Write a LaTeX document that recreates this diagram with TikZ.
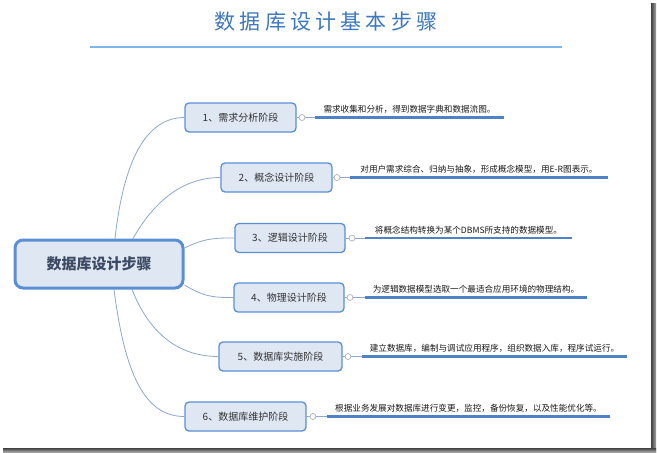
\documentclass[tikz,border=0pt]{standalone}
\usepackage{fontspec}
\setmainfont{Noto Sans CJK SC}
\newfontfamily\titlefont[LetterSpace=20]{Noto Sans CJK SC}
\usetikzlibrary{calc}
\definecolor{boxborder}{HTML}{5A8FD6}
\definecolor{boxfill}{HTML}{DFE7F3}
\definecolor{curvecol}{HTML}{8CA8D0}
\definecolor{thickline}{HTML}{4F81C7}
\definecolor{titlecol}{HTML}{3D78C0}
\definecolor{titleline}{HTML}{7DB6E8}
\definecolor{roottext}{HTML}{3D4A63}
\definecolor{boxtext}{HTML}{333333}
\tikzset{
  stepbox/.style={draw=boxborder, line width=1.3pt, fill=boxfill, rounded corners=4pt,
    minimum height=29pt, inner sep=0pt, font=\fontsize{10}{12}\selectfont, text=boxtext},
  rootbox/.style={draw=boxborder, line width=3pt, fill=boxfill, rounded corners=8pt,
    minimum width=168pt, minimum height=48pt, inner sep=0pt,
    font=\fontsize{15}{18}\selectfont\bfseries, text=roottext},
  knob/.style={circle, draw=gray!70, fill=white, line width=0.6pt, minimum size=6pt, inner sep=0pt},
  branch/.style={draw=curvecol, line width=0.8pt},
  stub/.style={draw=curvecol, line width=0.6pt},
  underline/.style={draw=thickline, line width=2.4pt},
  desc/.style={anchor=south, inner sep=1pt, font=\fontsize{8.6}{10}\selectfont, text=black!90},
}
\begin{document}
\begin{tikzpicture}[x=1pt,y=-1pt]
\useasboundingbox (0,0) rectangle (657,453);
\fill[white] (0,0) rectangle (657,453);
% frame shadow
\shade[left color=black!75, right color=black!35] (651,3) rectangle (656,452);
\shade[top color=black!75, bottom color=black!35] (3,448) rectangle (656,452);
% title
\node[font=\titlefont\fontsize{21}{24}\selectfont, text=titlecol] (title) at (326,22) {数据库设计基本步骤};
\coordinate (tl1) at (90,47);
\coordinate (tl2) at (562,47);
\draw[draw=titleline, line width=1.6pt] (tl1) -- (tl2);
% root
\node[rootbox] (root) at (99,264) {数据库设计步骤};
% steps
\node[stepbox, minimum width=111pt] (s1) at (240.5,117.5) {1、需求分析阶段};
\node[stepbox, minimum width=111pt] (s2) at (276.5,177.5) {2、概念设计阶段};
\node[stepbox, minimum width=110pt] (s3) at (290,238) {3、逻辑设计阶段};
\node[stepbox, minimum width=110pt] (s4) at (289,297.5) {4、物理设计阶段};
\node[stepbox, minimum width=123pt] (s5) at (280.5,356.5) {5、数据库实施阶段};
\node[stepbox, minimum width=121pt] (s6) at (245.5,416.5) {6、数据库维护阶段};
% branches
\draw[branch] ([xshift=16pt]root.north) .. controls (122,175) and (140,117.5) .. (s1.west);
\draw[branch] ([xshift=34pt]root.north) .. controls (152,205) and (180,177.5) .. (s2.west);
\draw[branch] ([yshift=16pt]root.east) .. controls (205,238) and (215,238) .. (s3.west);
\draw[branch] ([yshift=-21pt]root.east) .. controls (205,297.5) and (215,297.5) .. (s4.west);
\draw[branch] ([xshift=33pt]root.south) .. controls (150,335) and (180,356.5) .. (s5.west);
\draw[branch] ([xshift=15pt]root.south) .. controls (125,375) and (145,416.5) .. (s6.west);
% knobs, underlines, descriptions
\node[knob] (c1) at (302,117.5) {};
\node[knob] (c2) at (337,177.5) {};
\node[knob] (c3) at (352,238) {};
\node[knob] (c4) at (350,297.5) {};
\node[knob] (c5) at (348,356.5) {};
\node[knob] (c6) at (313,416.5) {};
\coordinate (a1) at (315,117.5); \coordinate (b1) at (504,117.5);
\coordinate (a2) at (350,177.5); \coordinate (b2) at (608,177.5);
\coordinate (a3) at (365,238);   \coordinate (b3) at (572,238);
\coordinate (a4) at (365,297.5); \coordinate (b4) at (587,297.5);
\coordinate (a5) at (362,356.5); \coordinate (b5) at (627,356.5);
\coordinate (a6) at (327,416.5); \coordinate (b6) at (610,416.5);
\foreach \i in {1,...,6}{
  \draw[stub] (s\i.east) -- (c\i.west);
  \draw[stub] (c\i.east) -- (a\i);
  \draw[underline] (a\i) -- (b\i);
}
\node[desc] (d1) at ($(a1)!0.5!(b1)+(0,-3)$) {需求收集和分析，得到数据字典和数据流图。};
\node[desc] (d2) at ($(a2)!0.5!(b2)+(0,-3)$) {对用户需求综合、归纳与抽象，形成概念模型，用E-R图表示。};
\node[desc] (d3) at ($(a3)!0.5!(b3)+(0,-3)$) {将概念结构转换为某个DBMS所支持的数据模型。};
\node[desc] (d4) at ($(a4)!0.5!(b4)+(0,-3)$) {为逻辑数据模型选取一个最适合应用环境的物理结构。};
\node[desc] (d5) at ($(a5)!0.5!(b5)+(0,-3)$) {建立数据库，编制与调试应用程序，组织数据入库，程序试运行。};
\node[desc] (d6) at ($(a6)!0.5!(b6)+(0,-3)$) {根据业务发展对数据库进行变更，监控，备份恢复，以及性能优化等。};
\end{tikzpicture}
\end{document}
